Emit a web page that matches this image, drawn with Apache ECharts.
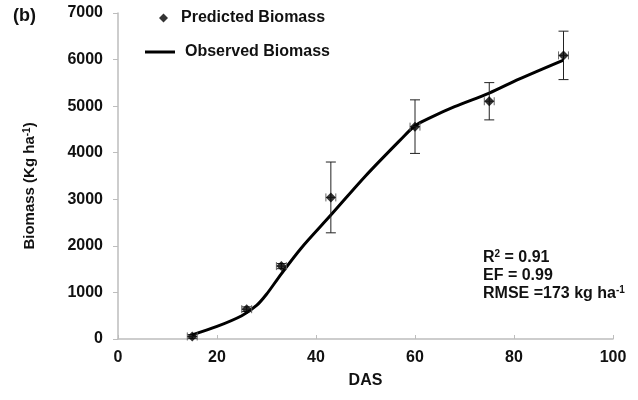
<!DOCTYPE html>
<html>
<head>
<meta charset="utf-8">
<script src="https://cdn.jsdelivr.net/npm/echarts@6/dist/echarts.min.js"></script>
<style>
  html, body { margin: 0; padding: 0; background: #fff; }
  #chart { width: 638px; height: 400px; }
</style>
</head>
<body>
<div id="chart"></div>
<script>
// predicted biomass with error bars
const das = [15, 26, 33, 43, 60, 75, 90];
const predicted = [55, 640, 1565, 3040, 4560, 5105, 6090];
const predictedErr = [40, 50, 55, 760, 575, 400, 520];
const dasErr = [1, 1, 1, 1, 1, 1, 1];

// observed biomass curve
const obsDas = [15, 20, 25, 28, 30, 33, 37, 43, 50, 57, 60, 63, 68, 75, 81, 90];
const obsBiomass = [90, 270, 500, 720, 960, 1400, 1950, 2660, 3500, 4270, 4580, 4750, 4990, 5280, 5580, 5990];

const yTicks = [0, 1000, 2000, 3000, 4000, 5000, 6000, 7000];
const xTicks = [0, 20, 40, 60, 80, 100];

const font = 'Liberation Sans, Arial, sans-serif';
const textColor = '#111';

const chart = echarts.init(document.getElementById('chart'));

const errData = das.map((d, i) => [d, predicted[i], predictedErr[i], dasErr[i]]);

const option = {
    animation: false,
    backgroundColor: '#fff',
    grid: { left: 118, right: 25, top: 13, bottom: 61 },
    legend: [
        {
            data: [{ name: 'Predicted Biomass', icon: 'diamond' }],
            left: 159, top: 10, padding: 0,
            itemWidth: 9, itemHeight: 9,
            textStyle: { fontFamily: font, fontWeight: 'bold', fontSize: 16, color: textColor, padding: [0, 0, 0, 8] },
        },
        {
            data: [{ name: 'Observed Biomass', icon: 'rect' }],
            left: 145, top: 44, padding: 0,
            itemWidth: 30, itemHeight: 3,
            textStyle: { fontFamily: font, fontWeight: 'bold', fontSize: 16, color: textColor, padding: [0, 0, 0, 5] },
        },
    ],
    xAxis: {
        type: 'value',
        min: 0, max: 100, interval: 20,
        name: 'DAS',
        nameLocation: 'middle',
        nameGap: 34,
        nameTextStyle: { fontFamily: font, fontWeight: 'bold', fontSize: 16, color: textColor },
        axisLine: { show: true, lineStyle: { color: '#bdbdbd', width: 1.5 } },
        axisTick: { show: true, inside: true, length: 4, lineStyle: { color: '#bdbdbd' } },
        axisLabel: { fontFamily: font, fontWeight: 'bold', fontSize: 16, color: textColor, margin: 11,
            formatter: v => xTicks.includes(v) ? String(v) : '' },
        splitLine: { show: false },
    },
    yAxis: {
        type: 'value',
        min: 0, max: 7000, interval: 1000,
        name: 'Biomass (Kg ha{sup|-1})',
        nameLocation: 'middle',
        nameRotate: 90,
        nameGap: 80,
        nameTextStyle: {
            fontFamily: font, fontWeight: 'bold', fontSize: 15, color: textColor, padding: [0, 20, 0, 0],
            rich: { sup: { fontFamily: font, fontWeight: 'bold', fontSize: 10, color: textColor, verticalAlign: 'top', padding: [0, 0, 6, 0] } },
        },
        axisLine: { show: true, lineStyle: { color: '#bdbdbd', width: 1.5 } },
        axisTick: { show: true, length: 5, lineStyle: { color: '#bdbdbd' } },
        axisLabel: { fontFamily: font, fontWeight: 'bold', fontSize: 16, color: textColor, margin: 15,
            formatter: v => yTicks.includes(v) ? String(v) : '' },
        splitLine: { show: false },
    },
    series: [
        {
            name: 'Observed Biomass',
            type: 'line',
            data: obsDas.map((d, i) => [d, obsBiomass[i]]),
            smooth: 0.3,
            showSymbol: false,
            lineStyle: { color: '#000', width: 3 },
            itemStyle: { color: '#000' },
            z: 3,
        },
        {
            name: 'errorbars',
            type: 'custom',
            data: errData,
            renderItem: function (params, api) {
                const x = api.value(0), y = api.value(1), ey = api.value(2), ex = api.value(3);
                const top = api.coord([x, y + ey]);
                const bot = api.coord([x, y - ey]);
                const left = api.coord([x - ex, y]);
                const right = api.coord([x + ex, y]);
                const cw = 5, ch = 4;
                const vStyle = { stroke: '#222', lineWidth: 1 };
                const hStyle = { stroke: '#666', lineWidth: 1 };
                return {
                    type: 'group',
                    children: [
                        { type: 'line', shape: { x1: top[0], y1: top[1], x2: bot[0], y2: bot[1] }, style: vStyle },
                        { type: 'line', shape: { x1: top[0] - cw, y1: top[1], x2: top[0] + cw, y2: top[1] }, style: vStyle },
                        { type: 'line', shape: { x1: bot[0] - cw, y1: bot[1], x2: bot[0] + cw, y2: bot[1] }, style: vStyle },
                        { type: 'line', shape: { x1: left[0], y1: left[1], x2: right[0], y2: right[1] }, style: hStyle },
                        { type: 'line', shape: { x1: left[0], y1: left[1] - ch, x2: left[0], y2: left[1] + ch }, style: hStyle },
                        { type: 'line', shape: { x1: right[0], y1: right[1] - ch, x2: right[0], y2: right[1] + ch }, style: hStyle },
                    ],
                };
            },
            z: 4,
        },
        {
            name: 'Predicted Biomass',
            type: 'scatter',
            data: das.map((d, i) => [d, predicted[i]]),
            symbol: 'diamond',
            symbolSize: 10,
            itemStyle: { color: '#000' },
            z: 5,
        },
    ],
    graphic: [
        { type: 'text', left: 13, top: 7, style: { text: '(b)', font: 'bold 18px ' + font, fill: textColor } },
        {
            type: 'text', left: 483, top: 249,
            style: {
                text: 'R{sup|2} = 0.91\nEF = 0.99\nRMSE =173 kg ha{sup|-1}',
                font: 'bold 16px ' + font, fill: textColor, lineHeight: 18,
                rich: { sup: { font: 'bold 10px ' + font, fill: textColor, verticalAlign: 'top', padding: [0, 0, 6, 0] } },
            },
        },
    ],
};

chart.setOption(option);
</script>
</body>
</html>
